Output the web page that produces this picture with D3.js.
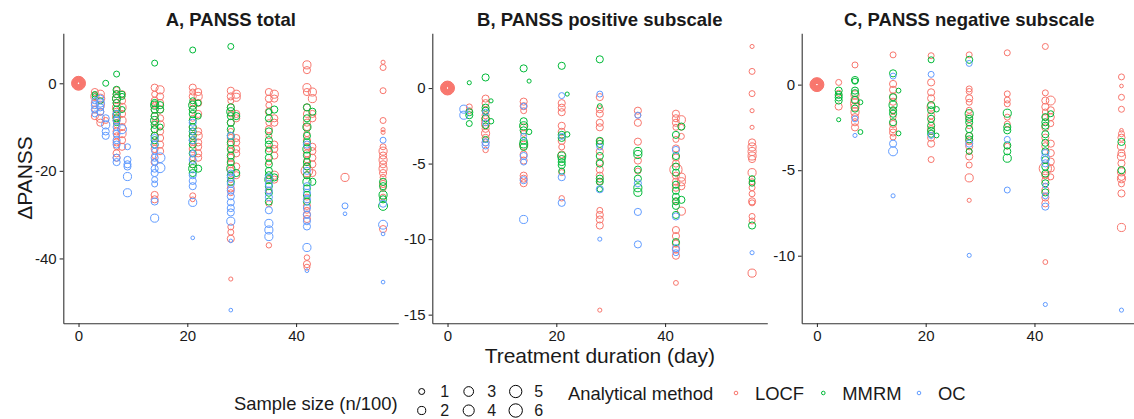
<!DOCTYPE html>
<html><head><meta charset="utf-8">
<script src="https://cdn.jsdelivr.net/npm/d3@7"></script>
<style>
html,body{margin:0;padding:0;background:#fff;}
text{font-family:"Liberation Sans",Arial,Helvetica,sans-serif;}
</style></head>
<body><svg id="chart" width="1134" height="419"></svg>
<script>
// ---------------- DATA ----------------
const methods = ["LOCF", "MMRM", "OC"];
const methodColors = ["#F8766D", "#00BA38", "#619CFF"];
const panelTitles = ["A, PANSS total", "B, PANSS positive subscale", "C, PANSS negative subscale"];
const xTicks = [0, 20, 40];
const yTicksTotal = [0, -20, -40];
const yTicksPos = [0, -5, -10, -15];
const yTicksNeg = [0, -5, -10];
const sizeBreaks = [1, 2, 3, 4, 5, 6];
const baselineSizes = [0.1, 0.2, 0.35, 0.5, 0.7, 0.9, 1.1, 1.4, 1.7, 2, 2.4, 2.8, 3.3, 3.8, 4.4, 5, 5.7, 6.5];
// each point: [day, change, sample size (n/100)]
const totalLOCF = [
[3,-2,1.5],[3,-3,2],[3,-4.5,1.5],[3,-6,1],[3,-7.5,1.5],
[4,-2.5,2],[4,-3.5,2.5],[4,-5,2],[4,-6.5,1.5],[4,-8,2],[4,-9,1.5],[5,-8.5,1],
[7,-1.5,1],[7,-2.5,1.5],[7,-3.5,2],[7,-4.5,1.5],[7,-5.5,2],[7,-6.5,1.5],[7,-7.5,2],[7,-8.5,1.5],[7,-9.5,1],[7,-11,1.5],[7,-12,1],[7,-13.5,1.5],[7,-14.5,1],[7,-16,1.5],[7,-17,1.5],
[8,-2.5,1.5],[8,-4,1.5],[8,-5.5,2],[8,-7,1.5],[8,-8.5,2],[8,-10,1.5],[8,-11.5,2],[8,-13,1.5],[8,-14.5,1.5],
[14,-1,1.5],[14,-2.5,1],[14,-4,1.5],[14,-5,1],[14,-6,1.5],[14,-7.5,1.5],[14,-9,1],[14,-10.5,1.5],[14,-12,1.5],[14,-13.5,1],[14,-15,1.5],[14,-16.5,1],[14,-18,1.5],[14,-25.5,1.5],[14,-26.5,1.5],
[15,-1.5,2],[15,-3,1.5],[15,-4.5,1.5],[15,-6,1.5],[15,-8,1.5],[15,-9.5,2],[15,-11,1.5],[15,-12.5,1.5],[15,-14,1.5],[15,-15.5,1.5],
[21,-1,1.5],[21,-2,1],[21,-3,1.5],[21,-4.5,1],[21,-6,1.5],[21,-8,1],[21,-10,1.5],[21,-12,1.5],[21,-13.5,1],[21,-15,1.5],[21,-17,1],[21,-18.5,1.5],[21,-25.7,1],[21,-26.5,0.6],
[22,-2,1.5],[22,-3,2],[22,-4.5,1.5],[22,-7,1.5],[22,-11,1.5],[22,-12,2],[22,-13.5,1.5],[22,-14.5,1.5],[22,-16,1.5],[22,-17,1.5],
[28,-1.7,1.5],[28,-3,1.5],[28,-4,1],[28,-5.5,1.5],[28,-7,1],[28,-9,1.5],[28,-11,1],[28,-12.5,1.5],[28,-14,1.5],[28,-15.5,1],[28,-17,1.5],[28,-18.5,1.5],[28,-20,1.5],[28,-22,1],[28,-24,1.5],[28,-25,1],[28,-32.8,1],[28,-34,1],[28,-35.5,1.5],[28,-44.7,0.4],
[29,-2.5,2],[29,-3.2,2],[29,-7,1.5],[29,-8,1.5],[29,-12.5,1.5],[29,-13.5,1.5],[29,-15,1.5],[29,-16,1.5],[29,-19,1.5],[29,-21,1.5],
[35,-2,1.5],[35,-3.5,1.5],[35,-5,1],[35,-6.5,1.5],[35,-9,1],[35,-10.5,1.5],[35,-12,1],[35,-15,1],[35,-18,1],[35,-22,1],[35,-24.5,1],[35,-27.5,1],[35,-37,0.8],
[36,-2.5,2],[36,-3.5,1.5],[36,-8,1.5],[36,-9,1.5],[36,-14,1.5],[36,-15,1.5],[36,-16.5,1.5],[36,-21,2],[36,-22,1.5],
[42,4.2,2],[42,3,1.5],[42,-1,2],[42,-2,1.5],[42,-5.5,1.5],[42,-7,1.5],[42,-9,1.5],[42,-10,1.5],[42,-11.5,1],[42,-13,1.5],[42,-14.5,1],[42,-16,1.5],[42,-17.5,1],[42,-19,1.5],[42,-20,4.5],[42,-21,1.5],[42,-26,1],[42,-28,1.5],[42,-29,1],[42,-30,1.5],[42,-31,1.5],[42,-39.8,0.8],[42,-41.3,1.5],[42,-42,1],
[43,-2,2],[43,-3.5,2],[43,-7,1.5],[43,-8,1.5],[43,-14.5,1.5],[43,-15.5,1.5],[43,-17,1.5],[43,-18.5,1.5],[43,-20.5,1.5],
[49,-21.5,2],
[56,4.8,0.4],[56,3.6,1],[56,-1.7,1],[56,-8.5,1],[56,-10.6,0.4],[56,-11.2,0.4],[56,-14.5,1],[56,-15.5,2],[56,-16.5,1.5],[56,-17.5,2],[56,-18.5,1.5],[56,-19.5,2],[56,-20.5,1.5],[56,-21.5,1],[56,-23,1.5],[56,-24,1],[56,-26,1],[56,-33.3,1.5]
];
const totalMMRM = [
[3,-2.5,0.8],[3,-3,0.8],[4,-4,1],[5,0,1],
[7,2.1,1],[7,-1.5,1.5],[7,-2.5,1.5],[7,-3.5,2],[7,-4.5,1.5],[7,-6,1.5],[7,-7,1.5],[7,-8,1.5],[7,-9,1],
[8,-2.5,1],[8,-3,1],[8,-6,1],
[14,4.6,1],[14,-4.5,1.5],[14,-5,2],[14,-6,1.5],[14,-7.5,1.5],[14,-8.5,2],[14,-9.5,1.5],[14,-10.5,1.5],[14,-12,1.5],[14,-13,1.5],[14,-14,1.5],
[15,-5,1.5],[15,-6,1.5],[15,-10,1],
[21,7.6,1],[21,-4,1],[21,-5,2],[21,-6,1.5],[21,-7,1.5],[21,-8.5,1.5],[21,-10,1.5],[21,-11,1.5],[21,-12,1.5],[21,-13,1.5],[21,-14,1.5],[21,-16,1.5],[21,-18.5,1.5],[21,-19.5,2],[21,-20.5,1.5],
[22,-4.5,1],[22,-7.5,1],[22,-19.5,1.5],
[28,8.4,1],[28,-5.5,1.5],[28,-6.5,2],[28,-7.5,1.5],[28,-9,1.5],[28,-10.5,1.5],[28,-12,1.5],[28,-13.5,1.5],[28,-15,1.5],[28,-16.5,1.5],[28,-18,1.5],[28,-19.5,2],[28,-21,1.5],[28,-22.5,1.5],
[29,-7.5,1.5],[29,-20.5,1.5],
[35,-6.5,1],[35,-8,1.5],[35,-11,1.5],[35,-13,1.5],[35,-14,1.5],[35,-15.5,1.5],[35,-17,1.5],[35,-18.5,1.5],[35,-20,1.5],[35,-21,1.5],[35,-22,2],[35,-23.5,1.5],[35,-25,1.5],[35,-27,1.5],
[36,-6,1.5],[36,-21.5,1.5],
[42,-5.5,1.5],[42,-8,1.5],[42,-10,2],[42,-12,1.5],[42,-13.5,1.5],[42,-15,2],[42,-16.5,1.5],[42,-18,1.5],[42,-19,1.5],[42,-21,1.5],[42,-22.5,2],[42,-24,1.5],[42,-25.5,1.5],[42,-27,1.5],
[43,-6.5,1.5],[43,-22.5,1.5],
[56,-22.5,1.5],[56,-23.5,1.5],[56,-25.5,2],[56,-26.5,1.5],[56,-28,2.5]
];
const totalOC = [
[3,-4,1],[3,-5,1.5],[3,-6,1.5],[3,-7,1],
[4,-3.5,1.5],[4,-4.5,2],[4,-5.5,1.5],[4,-6.5,1.5],
[5,-8,1.5],[5,-9.5,2],[5,-11,1.5],[5,-12,1.5],
[7,-7,1.5],[7,-8.5,1.5],[7,-10,1.5],[7,-11.5,1.5],[7,-13,1.5],[7,-14,1.5],[7,-17,1.5],[7,-18,1.5],
[8,-10.5,2.5],
[9,-14.5,1],[9,-17.5,1.5],[9,-18.5,1.5],[9,-19,1.5],[9,-21.3,2],[9,-25,2],
[14,-12.5,1.5],[14,-14,1.5],[14,-15.5,1],[14,-17,1.5],[14,-18,1],[14,-19.5,1.5],[14,-20.5,1.5],[14,-22,1],[14,-23,1],[14,-27,1.5],[14,-30.8,2],
[15,-17,3],[15,-19.3,3],
[21,-9,1.5],[21,-11,1],[21,-13,1.5],[21,-16,1],[21,-17.5,1.5],[21,-21,1.5],[21,-22.3,1.5],[21,-23.5,1.5],[21,-27.2,2],[21,-35.3,0.3],
[28,-12,1.5],[28,-20.5,1],[28,-21.5,1.5],[28,-23,1.5],[28,-24.5,1.5],[28,-25.8,1.5],[28,-27.2,1.5],[28,-28.5,1.5],[28,-29.5,1.5],[28,-31.5,2],[28,-36,0.3],[28,-51.8,0.3],
[35,-21.5,1.5],[35,-23,1.5],[35,-24.5,1.5],[35,-26,1.5],[35,-29,1.5],[35,-32,2],[35,-33.5,2],[35,-35,2],
[42,-14,1.5],[42,-20,1.5],[42,-23.5,1.5],[42,-25,1.5],[42,-26.5,1.5],[42,-28.5,1.5],[42,-30,1.5],[42,-31.5,1.5],[42,-32.7,1.5],[42,-37.5,2],[42,-42.8,0.3],
[49,-28,1],[49,-29.8,0.3],
[56,-13,1],[56,-27.5,1.5],[56,-32.3,2.5],[56,-34.4,0.3],[56,-45.4,0.3]
];
const posLOCF = [
[4,-1.25,1],[4,-1.5,1],
[7,-0.7,1.5],[7,-1,1.5],[7,-1.5,1.5],[7,-1.8,1.5],[7,-2.1,2],[7,-2.4,2],[7,-2.7,1.5],[7,-3,2],[7,-3.3,1.5],[7,-3.6,1.5],[7,-4.1,0.8],
[14,-0.9,1.5],[14,-1.2,1.5],[14,-1.5,1],[14,-2.6,1.5],[14,-3,1],[14,-3.8,2],[14,-4.4,1.5],[14,-4.8,1.5],[14,-5.8,1.5],[14,-6,1.5],[14,-6.3,1.5],
[21,-1,1.5],[21,-1.3,1.5],[21,-1.6,1.5],[21,-2.5,1.5],[21,-2.9,1.5],[21,-3.5,1.5],[21,-3.9,1],[21,-4.4,1.5],[21,-5.6,1],[21,-7.3,0.8],
[28,-0.6,1.5],[28,-1.4,1.5],[28,-1.7,1.5],[28,-2.3,1.5],[28,-2.6,1.5],[28,-3.5,1],[28,-4.2,1.5],[28,-4.9,1.5],[28,-5.4,1.5],[28,-5.8,1.5],[28,-6.2,1],[28,-8.1,1],[28,-8.4,1.5],[28,-8.7,1.5],[28,-9.1,1.5],[28,-14.7,0.4],
[35,-1.5,1.5],[35,-1.8,1],[35,-2.3,1.5],[35,-3.55,1.5],[35,-4.8,1.5],[35,-5.5,1],
[42,-1.7,1.5],[42,-2,1.5],[42,-2.3,1.5],[42,-2.6,1],[42,-3.4,1],[42,-4,1.5],[42,-4.6,1.5],[42,-5,1.5],[42,-5.4,5],[42,-5.8,1.5],[42,-6.2,1.5],[42,-6.6,1.5],[42,-7.5,1],[42,-9.4,1.5],[42,-9.8,1.5],[42,-10.3,1.5],[42,-10.7,1.5],[42,-11.1,1.5],[42,-12.9,0.6],
[43,-2.1,2],[43,-2.6,1],[43,-3.2,1],[43,-5.9,2],[43,-6.2,2],[43,-6.5,1.5],[43,-8.15,2],
[56,2.75,0.4],[56,1.1,1],[56,-0.37,1],[56,-1.5,0.4],[56,-2.6,0.4],[56,-3.6,1.5],[56,-3.9,2],[56,-4.2,2],[56,-4.5,2],[56,-4.7,1.5],[56,-5.6,2],[56,-6.2,1],[56,-6.6,1],[56,-7,1],[56,-7.5,1.5],[56,-7.6,1],[56,-8.5,1],[56,-8.8,1],[56,-12.25,2]
];
const posMMRM = [
[4,0.35,0.4],[4,-1.6,1.5],[4,-1.8,1.5],[4,-2.35,1],
[7,0.7,1.5],[7,-1.3,1.5],[7,-1.5,1.5],[7,-2,1.5],[7,-2.5,1],[7,-3.4,1],
[8,-0.85,0.4],[8,-2.2,0.8],
[14,1.3,1.5],[14,-2.2,1.5],[14,-2.5,2],[14,-2.8,1.5],[14,-3.5,1.5],[14,-3.7,2],[14,-3.9,1.5],
[15,0.46,0.4],[15,-2.9,0.8],
[21,1.47,1.5],[21,-3.1,1.5],[21,-3.3,1.5],[21,-4.5,2],[21,-4.7,1.5],[21,-4.9,1.5],[21,-5.1,1.5],[21,-5.5,1],
[22,-0.4,0.4],[22,-3.07,0.8],
[28,1.9,1.5],[28,-1.2,0.6],[28,-3.5,1.5],[28,-3.7,1.5],[28,-4.5,1.5],[28,-5,1.5],[28,-6,1.5],[28,-6.2,1.5],[28,-6.7,0.8],
[35,-4.2,2],[35,-4.4,2],[35,-5.4,1.5],[35,-6,1.5],[35,-6.6,2],[35,-6.9,2],
[42,-3.1,1.5],[42,-4.5,1.5],[42,-5.2,1.5],[42,-5.6,1.5],[42,-6.4,1.5],[42,-6.8,1.5],[42,-7.2,1.5],[42,-7.5,1.5],[42,-7.8,1.5],[42,-8.4,1.5],[42,-10.2,1.5],
[43,-2.55,1.5],[43,-7.4,1.5],
[56,-6,1],[56,-6.3,1],[56,-9.1,1.5]
];
const posOC = [
[3,-1.4,2],[3,-1.8,2],
[7,-1.6,1],[7,-2.3,1],[7,-3.6,1.5],[7,-3.8,1.5],
[14,-1.2,1],[14,-3.2,1],[14,-4.5,1.5],[14,-4.9,1],[14,-6.1,1.5],[14,-8.7,2],
[21,-0.5,1],[21,-3.2,1],[21,-5.9,1.5],[21,-7.6,1.5],
[28,-0.4,1],[28,-3.9,1],[28,-6.7,1.5],[28,-10,0.4],
[35,-1.8,1],[35,-6.3,1.5],[35,-8.2,1.5],[35,-10.35,1.5],
[42,-4.1,1.5],[42,-8.5,1.5],[42,-10.6,1.5],[42,-10.9,1],
[56,-10.9,0.4]
];
const negLOCF = [
[4,0.13,1],[4,-0.5,1],[4,-1.28,1.5],
[7,1.15,1],[7,-0.6,2],[7,-0.9,2],[7,-1.1,2.5],[7,-1.3,2],[7,-1.6,2],[7,-1.9,1.5],[7,-2.2,1.5],[7,-2.5,1.5],
[14,1.74,1],[14,0.04,1.5],[14,-0.3,1.5],[14,-0.7,1.5],[14,-1,1.5],[14,-1.5,1],[14,-1.9,1],[14,-2.3,1.5],[14,-2.6,1.5],[14,-2.8,1.5],[14,-3.06,1],
[21,1.69,1],[21,0.13,1.5],[21,-0.45,1.5],[21,-0.8,1.5],[21,-1.3,2],[21,-1.8,1.5],[21,-2.2,1],[21,-2.6,1.5],[21,-3.1,1.5],[21,-3.45,1.5],[21,-4.38,1],
[28,1.74,1],[28,-0.25,1],[28,-0.4,1],[28,-0.8,1.5],[28,-1.03,1],[28,-1.5,1],[28,-1.9,1.5],[28,-2.4,1],[28,-3,1.5],[28,-3.3,1.5],[28,-3.6,1.5],[28,-3.9,1],[28,-4.2,1.5],[28,-4.7,1],[28,-5.45,2],[28,-6.76,0.4],
[35,1.86,1],[35,-0.54,1],[35,-0.9,1],[35,-1.12,1],[35,-1.9,1],[35,-2.3,1],[35,-3.6,1],
[42,2.23,1],[42,-0.48,1],[42,-0.93,1.5],[42,-1.3,1.5],[42,-1.6,1],[42,-1.9,1],[42,-2.5,1.5],[42,-3.1,1.5],[42,-3.6,1.5],[42,-4.9,5],[42,-5.3,1.5],[42,-5.6,1.5],[42,-6.16,1.5],[42,-6.6,1.5],[42,-6.94,1.5],[42,-10.37,0.6],
[43,-0.93,2.5],[43,-1.5,1.5],[43,-1.9,1.5],[43,-2.28,1],[43,-3.45,1.5],[43,-4,1.5],[43,-4.5,1.5],[43,-4.9,1.5],[43,-5.39,1],
[56,0.45,1],[56,-0.08,0.3],[56,-0.74,1],[56,-1.44,1],[56,-2.67,0.3],[56,-2.87,1],[56,-3.1,1.5],[56,-3.6,2],[56,-4,1.5],[56,-4.2,2],[56,-4.6,1.5],[56,-5.1,2],[56,-5.39,1.5],[56,-5.5,2],[56,-5.8,1],[56,-6.36,1.5],[56,-8.35,2]
];
const negMMRM = [
[4,-0.35,1.5],[4,-0.6,1.5],[4,-0.75,1.5],[4,-0.93,1.5],[4,-2.05,0.4],
[7,0.27,1.5],[7,0.2,1],[7,-0.35,1.5],[7,-0.5,1.5],[7,-0.9,1.5],[7,-1.4,1.5],
[8,-1.03,0.6],[8,-2.77,0.6],
[14,0.66,1.5],[14,-0.74,1.5],[14,-1.2,2],[14,-1.5,1.5],[14,-1.7,1.5],[14,-2.2,1.5],
[15,-0.35,0.6],[15,-2.85,0.6],
[21,1.45,1],[21,-1.2,1.5],[21,-1.5,1.5],[21,-2,1.5],[21,-2.4,1.5],[21,-2.7,1.5],[21,-2.87,1.5],
[22,-1.44,0.8],[22,-2.97,0.6],
[28,1.45,1.5],[28,-1.7,2],[28,-2,1.5],[28,-2.2,1.5],[28,-2.6,1.5],[28,-3,1.5],[28,-3.2,1.5],[28,-3.9,1],
[35,-1.67,2],[35,-2.48,1.5],[35,-2.67,1.5],[35,-3.55,1.5],[35,-3.9,1.5],[35,-4.3,2],
[42,-1.9,1.5],[42,-2.2,1.5],[42,-2.4,1.5],[42,-2.9,1.5],[42,-3.4,1.5],[42,-3.9,1.5],[42,-4.4,1.5],[42,-4.8,1.5],[42,-5.2,1.5],[42,-5.77,1.5],[42,-6.3,1.5],
[43,-1.7,1],
[56,-3.35,1.5],[56,-5,1.5]
];
const negOC = [
[7,-2,1],[7,-2.97,0.4],
[14,0.5,1],[14,-3.45,1.5],[14,-3.9,2.5],[14,-6.5,0.4],
[21,0.6,1],[21,-2.97,1],
[28,1.24,1],[28,-3.45,1.5],[28,-9.98,0.4],
[35,-3.2,1],[35,-6.16,1],
[42,-4,1.5],[42,-4.3,2],[42,-4.6,1.5],[42,-5.9,0.6],[42,-6.5,1],[42,-7.13,1.5],[42,-12.85,0.4],
[56,-13.18,0.4]
];

// ---------------- LAYOUT ----------------
const svg = d3.select("#chart");
const plotTop = 33.3, plotBottom = 323.3, plotW = 335;
const lefts = [63.3, 432.3, 801.7];
const panelData = [[totalLOCF, totalMMRM, totalOC], [posLOCF, posMMRM, posOC], [negLOCF, negMMRM, negOC]];
const panelYTicks = [yTicksTotal, yTicksPos, yTicksNeg];
const color = d3.scaleOrdinal().domain(methods).range(methodColors);
const rScale = n => Math.max(1.3, 3 + 2.55 * (Math.sqrt(n) - 1));
const axisCol = "#333";
const textCol = "#1a1a1a";

function expand(ext) { const d = (ext[1] - ext[0]) * 0.05; return [ext[0] - d, ext[1] + d]; }

panelData.forEach((series, pi) => {
  const left = lefts[pi];
  const all = series.flat().concat([[0, 0, 1]]);
  const x = d3.scaleLinear().domain(expand(d3.extent(all, d => d[0]))).range([left, left + plotW]);
  const y = d3.scaleLinear().domain(expand(d3.extent(all, d => d[1]))).range([plotBottom, plotTop]);
  const g = svg.append("g");

  // points
  const pts = [];
  series.forEach((arr, mi) => arr.forEach(d => pts.push({d, m: methods[mi]})));
  baselineSizes.forEach(n => pts.push({d: [0, 0, n], m: "LOCF"}));
  g.append("g").selectAll("circle").data(pts).join("circle")
    .attr("cx", p => x(p.d[0])).attr("cy", p => y(p.d[1]))
    .attr("r", p => rScale(p.d[2]))
    .attr("fill", "none").attr("stroke", p => color(p.m)).attr("stroke-width", 1);

  // axes
  const xa = g.append("g").attr("transform", `translate(0,${plotBottom})`)
    .call(d3.axisBottom(x).tickValues(xTicks).tickFormat(d => String(d)).tickSize(3.7).tickSizeOuter(0).tickPadding(3));
  const ya = g.append("g").attr("transform", `translate(${left},0)`)
    .call(d3.axisLeft(y).tickValues(panelYTicks[pi]).tickFormat(d => String(d)).tickSize(3.7).tickSizeOuter(0).tickPadding(3));
  [xa, ya].forEach(a => {
    a.select(".domain").attr("stroke", axisCol).attr("stroke-width", 1.1);
    a.selectAll(".tick line").attr("stroke", axisCol).attr("stroke-width", 1.1);
    a.selectAll(".tick text").attr("fill", textCol).style("font-size", "15px")
      .style("font-family", '"Liberation Sans",Arial,sans-serif');
  });

  // title
  svg.append("text").attr("x", left + plotW / 2).attr("y", 26)
    .attr("text-anchor", "middle").attr("font-weight", "bold").attr("font-size", 18.5)
    .attr("fill", textCol).text(panelTitles[pi]);
});

// axis titles
svg.append("text").attr("transform", "translate(32,178) rotate(-90)")
  .attr("text-anchor", "middle").attr("font-size", 21).attr("fill", textCol).text("ΔPANSS");
svg.append("text").attr("x", lefts[1] + plotW / 2).attr("y", 363)
  .attr("text-anchor", "middle").attr("font-size", 21).attr("fill", textCol).text("Treatment duration (day)");

// legend: sample size
const lg = svg.append("g");
const legFont = 18.4;
lg.append("text").attr("x", 234).attr("y", 410).attr("font-size", legFont).attr("fill", textCol).text("Sample size (n/100)");
sizeBreaks.forEach((s, i) => {
  const col = Math.floor(i / 2), row = i % 2;
  const cx = 421.7 + col * 47, cy = 391.5 + row * 19;
  lg.append("circle").attr("cx", cx).attr("cy", cy).attr("r", rScale(s))
    .attr("fill", "none").attr("stroke", "#000").attr("stroke-width", 1);
  lg.append("text").attr("x", cx + 18.5).attr("y", cy + 5.8).attr("font-size", 16).attr("fill", textCol).text(String(s));
});
// legend: method
lg.append("text").attr("x", 568).attr("y", 399.5).attr("font-size", legFont).attr("fill", textCol).text("Analytical method");
const keyX = [736, 823.3, 919];
methods.forEach((m, i) => {
  lg.append("circle").attr("cx", keyX[i]).attr("cy", 393).attr("r", 1.8)
    .attr("fill", "none").attr("stroke", color(m)).attr("stroke-width", 1);
  lg.append("text").attr("x", keyX[i] + 19).attr("y", 399.5).attr("font-size", legFont).attr("fill", textCol).text(m);
});
</script></body></html>
